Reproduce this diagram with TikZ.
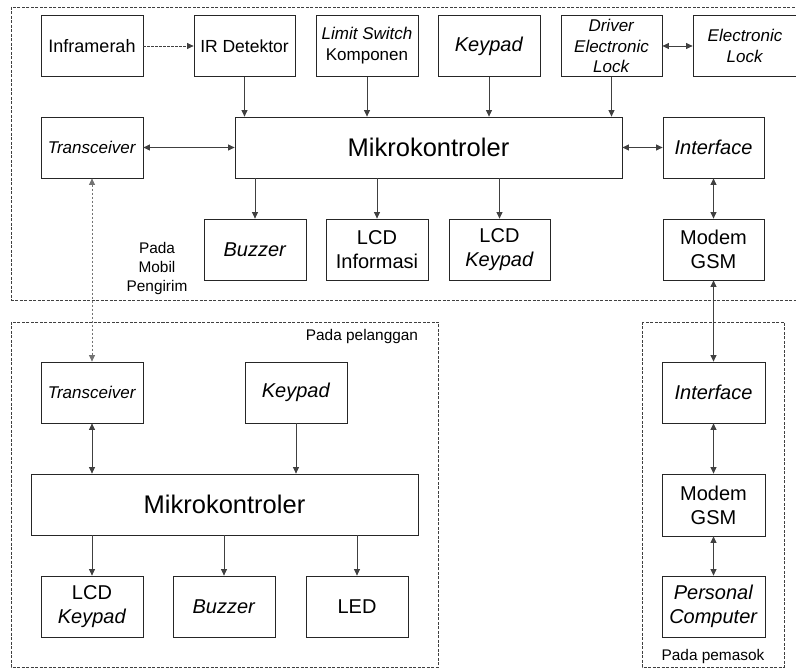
\documentclass[tikz,border=0pt]{standalone}
\usepackage{fontspec}
\setmainfont{Liberation Sans}
\usetikzlibrary{arrows.meta}
\newcommand\fsM{\fontsize{20}{24}\selectfont}
\newcommand\fsS{\fontsize{17}{21}\selectfont}
\newcommand\fsL{\fontsize{25.5}{30}\selectfont}
\newcommand\fsT{\fontsize{15.4}{19}\selectfont}
\begin{document}
\begin{tikzpicture}[x=1pt,y=-1pt,
  blk/.style={draw=black!85, line width=0.8pt, minimum width=102pt, minimum height=61pt, inner sep=0pt, align=center, font=\fsM},
  wide/.style={blk, minimum width=387pt, font=\fsL},
  small/.style={font=\fsS},
  arr/.style={-{Triangle[length=6.5pt,width=6pt]}, line width=0.8pt, draw=black!75},
  darr/.style={{Triangle[length=6.5pt,width=6pt]}-{Triangle[length=6.5pt,width=6pt]}, line width=0.8pt, draw=black!75},
  region/.style={draw=black!75, line width=0.8pt, dash pattern=on 3pt off 1.5pt},
  lbl/.style={align=center, font=\fsT, inner sep=0pt}]
\useasboundingbox (0,0) rectangle (796,668);
\clip (0,0) rectangle (796,668);
% regions
\draw[region] (11,7) rectangle (805,300);
\draw[region] (11,322) rectangle (438,667);
\draw[region] (642,322) rectangle (784,667);
% top section
\node[blk, font=\fontsize{18}{22}\selectfont] (inf) at (92,46) {Inframerah};
\node[blk, font=\fontsize{17.5}{21}\selectfont, minimum width=101pt] (ird) at (244.5,46) {IR Detektor};
\node[blk, small] (lim) at (367,46) {\textit{Limit Switch}\\Komponen};
\node[blk] (key) at (489,46) {\textit{Keypad}};
\node[blk, font=\fontsize{17}{20.5}\selectfont, minimum width=101pt] (drv) at (611.5,46) {\textit{Driver}\\\textit{Electronic}\\\textit{Lock}};
\node[blk, small, minimum width=104pt] (elk) at (745,46) {\textit{Electronic}\\\textit{Lock}};
\node[blk, small] (tr) at (92,147.5) {\textit{Transceiver}};
\node[wide] (mk) at (428.5,147.5) {Mikrokontroler};
\node[blk, minimum width=101pt] (if) at (713.5,147.5) {\textit{Interface}};
\node[blk] (bz) at (255,249.5) {\textit{Buzzer}};
\node[blk] (lcdi) at (377,249.5) {LCD\\Informasi};
\node[blk, minimum width=101pt] (lcdk) at (499.5,249.5) {LCD\\\textit{Keypad}};
\node[blk, minimum width=101pt] (mdm) at (713.5,249.5) {Modem\\GSM};
\node[lbl] (lblA) at (157,269) {Pada\\Mobil\\Pengirim};
% top connectors
\draw[arr, dash pattern=on 2.5pt off 1.5pt] (inf) -- (ird);
\draw[darr] (drv) -- (elk);
\draw[arr] (ird.south) -- (ird.south |- mk.north);
\draw[arr] (lim.south) -- (lim.south |- mk.north);
\draw[arr] (key.south) -- (key.south |- mk.north);
\draw[arr] (drv.south) -- (drv.south |- mk.north);
\draw[darr] (tr) -- (mk);
\draw[darr] (mk) -- (if);
\draw[arr] (bz.north |- mk.south) -- (bz.north);
\draw[arr] (lcdi.north |- mk.south) -- (lcdi.north);
\draw[arr] (lcdk.north |- mk.south) -- (lcdk.north);
\draw[darr] (if) -- (mdm);
% bottom-left section
\node[lbl] (lblB) at (362,337) {Pada pelanggan};
\node[blk, small] (tr2) at (92,392.5) {\textit{Transceiver}};
\node[blk] (key2) at (296,392.5) {\textit{Keypad}};
\node[wide] (mk2) at (224.5,504.5) {Mikrokontroler};
\node[blk] (lk2) at (92,606.5) {LCD\\\textit{Keypad}};
\node[blk] (bz2) at (224,606.5) {\textit{Buzzer}};
\node[blk] (led) at (357,606.5) {LED};
\draw[darr] (tr2.south) -- (tr2.south |- mk2.north);
\draw[arr] (key2.south) -- (key2.south |- mk2.north);
\draw[arr] (lk2.north |- mk2.south) -- (lk2.north);
\draw[arr] (bz2.north |- mk2.south) -- (bz2.north);
\draw[arr] (led.north |- mk2.south) -- (led.north);
\draw[darr, draw=black!55, dash pattern=on 2.5pt off 1.5pt] (tr) -- (tr2);
% right section
\node[blk, minimum width=103pt] (if2) at (713.5,392.5) {\textit{Interface}};
\node[blk, minimum width=103pt, minimum height=62pt] (mdm2) at (713.5,505) {Modem\\GSM};
\node[blk, minimum width=103pt] (pc) at (713.5,606.5) {\textit{Personal}\\\textit{Computer}};
\node[lbl] (lblC) at (713,657) {Pada pemasok};
\draw[darr] (mdm) -- (if2);
\draw[darr] (if2) -- (mdm2);
\draw[darr] (mdm2) -- (pc);
\end{tikzpicture}
\end{document}
